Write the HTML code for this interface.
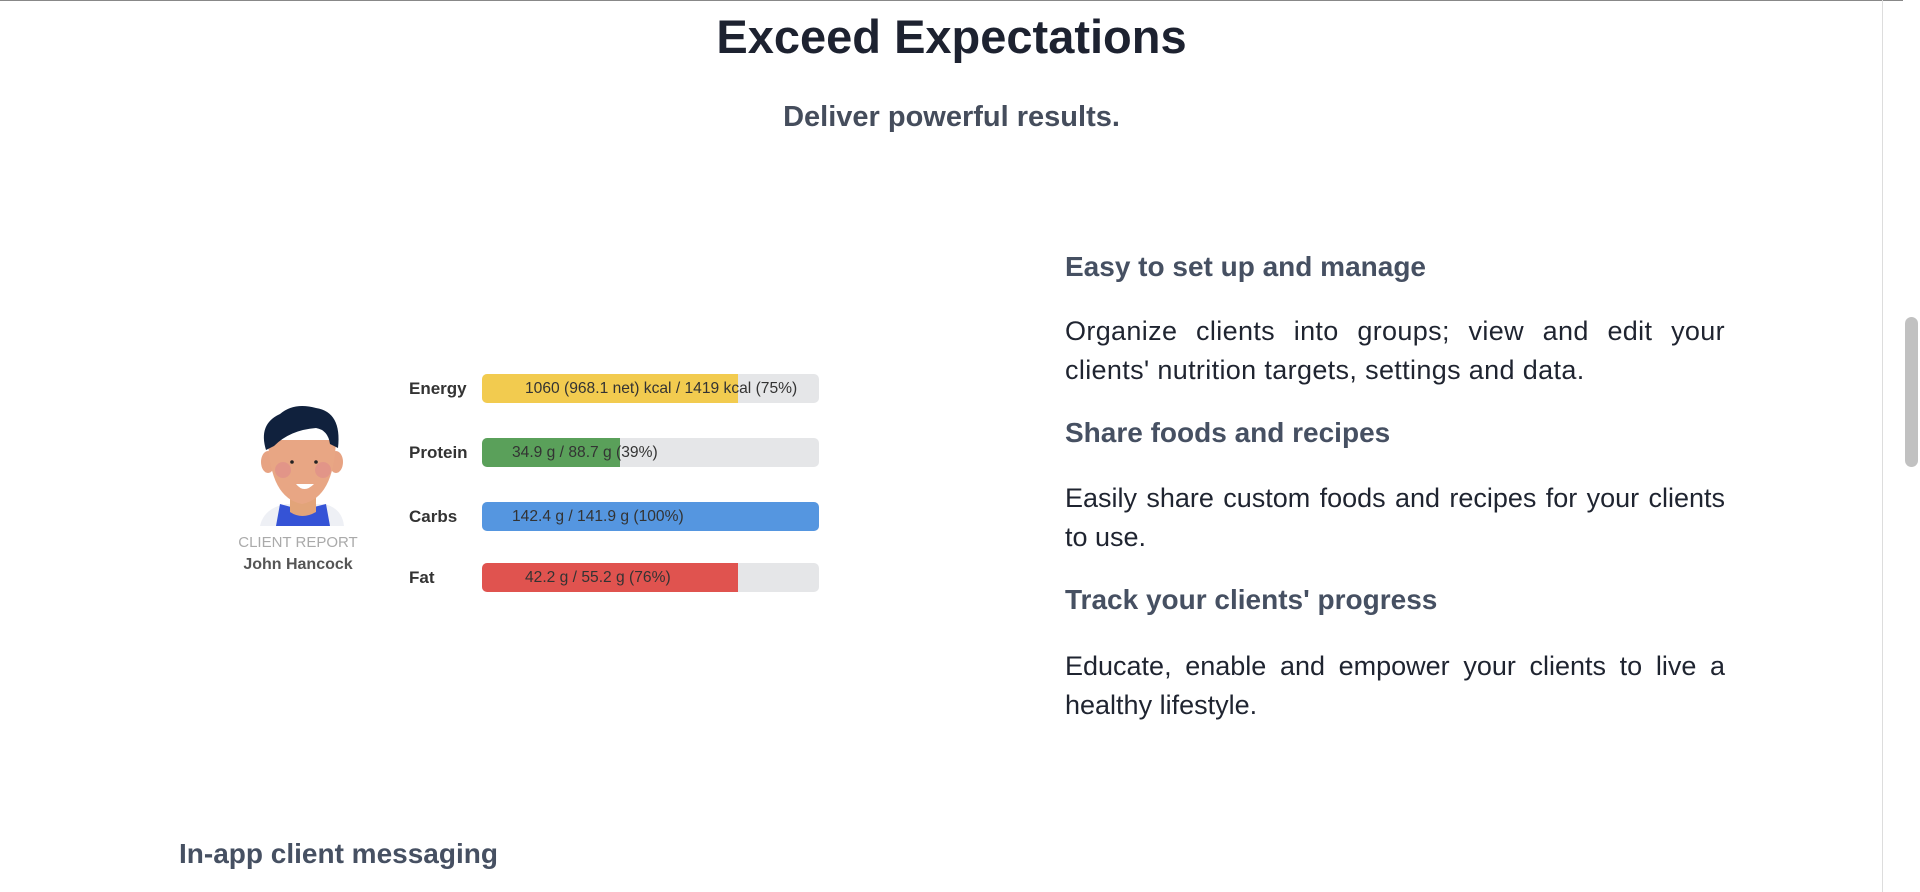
<!DOCTYPE html>
<html><head><meta charset="utf-8">
<style>
html,body{margin:0;padding:0;width:1920px;height:892px;overflow:hidden;background:#fff;font-family:"Liberation Sans",sans-serif;}
.abs{position:absolute;}
#topline{left:0;top:0;width:1920px;height:1px;background:#888;}
h1{position:absolute;margin:0;left:0;width:1903px;text-align:center;top:9px;font-size:47px;font-weight:bold;color:#1d2230;}
.sub{left:0;width:1903px;text-align:center;top:101px;font-size:29px;font-weight:bold;color:#454d5c;}
.h3{position:absolute;left:1065px;font-size:28px;font-weight:bold;color:#465062;margin:0;}
.p{position:absolute;left:1065px;width:660px;font-size:27px;line-height:39px;color:#1f2430;text-align:justify;margin:0;}
.lbl{position:absolute;left:409px;font-size:17px;font-weight:bold;color:#333;}
.track{position:absolute;left:482px;width:337px;height:29px;background:#e5e6e8;border-radius:5px;overflow:hidden;}
.fill{position:absolute;left:0;top:0;height:100%;}
.btxt{position:absolute;top:0;line-height:29px;font-size:15.6px;color:#333;white-space:nowrap;}
#scroll{left:1903px;top:0;width:17px;height:892px;background:#fff;}
#pageedge{left:1882px;top:0;width:1px;height:892px;background:#ddd;}
#thumb{left:1905px;top:317px;width:13px;height:150px;background:#c1c1c1;border-radius:7px;}
</style></head><body>
<div id="topline" class="abs"></div>
<h1>Exceed Expectations</h1>
<div class="abs sub">Deliver powerful results.</div>

<svg class="abs" style="left:250px;top:400px" width="100" height="130">
 <path d="M10 126 Q14 108 36 104 L74 104 Q92 108 94 126 Z" fill="#eef0f5"/>
 <path d="M26 126 L30 104 L52 110 L76 104 L80 126 Z" fill="#3553d6"/>
 <path d="M40 90 L40 112 Q52 120 66 112 L66 90 Z" fill="#e2a479"/>
 <ellipse cx="18" cy="62" rx="7" ry="11" fill="#e7a383"/>
 <ellipse cx="86" cy="62" rx="7" ry="11" fill="#e7a383"/>
 <path d="M18 40 Q20 98 52 104 Q84 98 86 40 Z" fill="#e8a684"/>
 <circle cx="33" cy="70" r="8" fill="#e08f8a" opacity=".7"/>
 <circle cx="73" cy="70" r="8" fill="#e08f8a" opacity=".7"/>
 <path d="M46 84 Q54 94 64 84 Z" fill="#fff"/>
 <circle cx="42" cy="62" r="1.8" fill="#222"/><circle cx="66" cy="62" r="1.8" fill="#222"/>
 <path d="M16 50 Q8 24 30 14 Q44 2 66 8 Q92 12 88 48 L80 44 Q78 30 66 28 Q40 30 24 46 Z" fill="#10213d"/>
</svg>
<div class="abs" style="left:220px;width:156px;text-align:center;top:534px;font-size:15px;color:#aaa;">CLIENT REPORT</div>
<div class="abs" style="left:220px;width:156px;text-align:center;top:556px;font-size:16px;font-weight:bold;color:#555;">John Hancock</div>

<div id="chart"></div>

<div class="h3" style="top:251px">Easy to set up and manage</div>
<p class="p" style="top:312px;letter-spacing:0.35px">Organize clients into groups; view and edit your clients' nutrition targets, settings and data.</p>
<div class="h3" style="top:417px">Share foods and recipes</div>
<p class="p" style="top:479px">Easily share custom foods and recipes for your clients to use.</p>
<div class="h3" style="top:584px">Track your clients' progress</div>
<p class="p" style="top:647px">Educate, enable and empower your clients to live a healthy lifestyle.</p>
<div class="h3" style="left:179px;top:838px">In-app client messaging</div>

<div id="pageedge" class="abs"></div>
<div id="scroll" class="abs"></div>
<div id="thumb" class="abs"></div>

<script>
const categories = ["Energy","Protein","Carbs","Fat"];
const percents = [76, 41, 100, 76];
const valueLabels = ["1060 (968.1 net) kcal / 1419 kcal (75%)","34.9 g / 88.7 g (39%)","142.4 g / 141.9 g (100%)","42.2 g / 55.2 g (76%)"];
const colors = ["#f2cb4f","#5aa05a","#5596e0","#e0534f"];
const rowTops = [374, 438, 502, 563];
const textOffsets = [43, 30, 30, 43];
const chart = document.getElementById('chart');
const trackW = 337;
const xScale = p => Math.min(100, p) / 100 * trackW;
categories.forEach((c, i) => {
  const lbl = document.createElement('div');
  lbl.className = 'lbl';
  lbl.style.top = (rowTops[i] + 5) + 'px';
  lbl.textContent = c;
  
  
  chart.appendChild(lbl);
  const tr = document.createElement('div');
  tr.className = 'track';
  tr.style.top = rowTops[i] + 'px';
  
  
  const f = document.createElement('div');
  f.className = 'fill';
  f.style.width = xScale(percents[i]) + 'px';
  f.style.background = colors[i];
  
  
  tr.appendChild(f);
  const t = document.createElement('div');
  t.className = 'btxt';
  t.style.left = textOffsets[i] + 'px';
  t.textContent = valueLabels[i];
  
  
  tr.appendChild(t);
  chart.appendChild(tr);
});
</script>
</body></html>
